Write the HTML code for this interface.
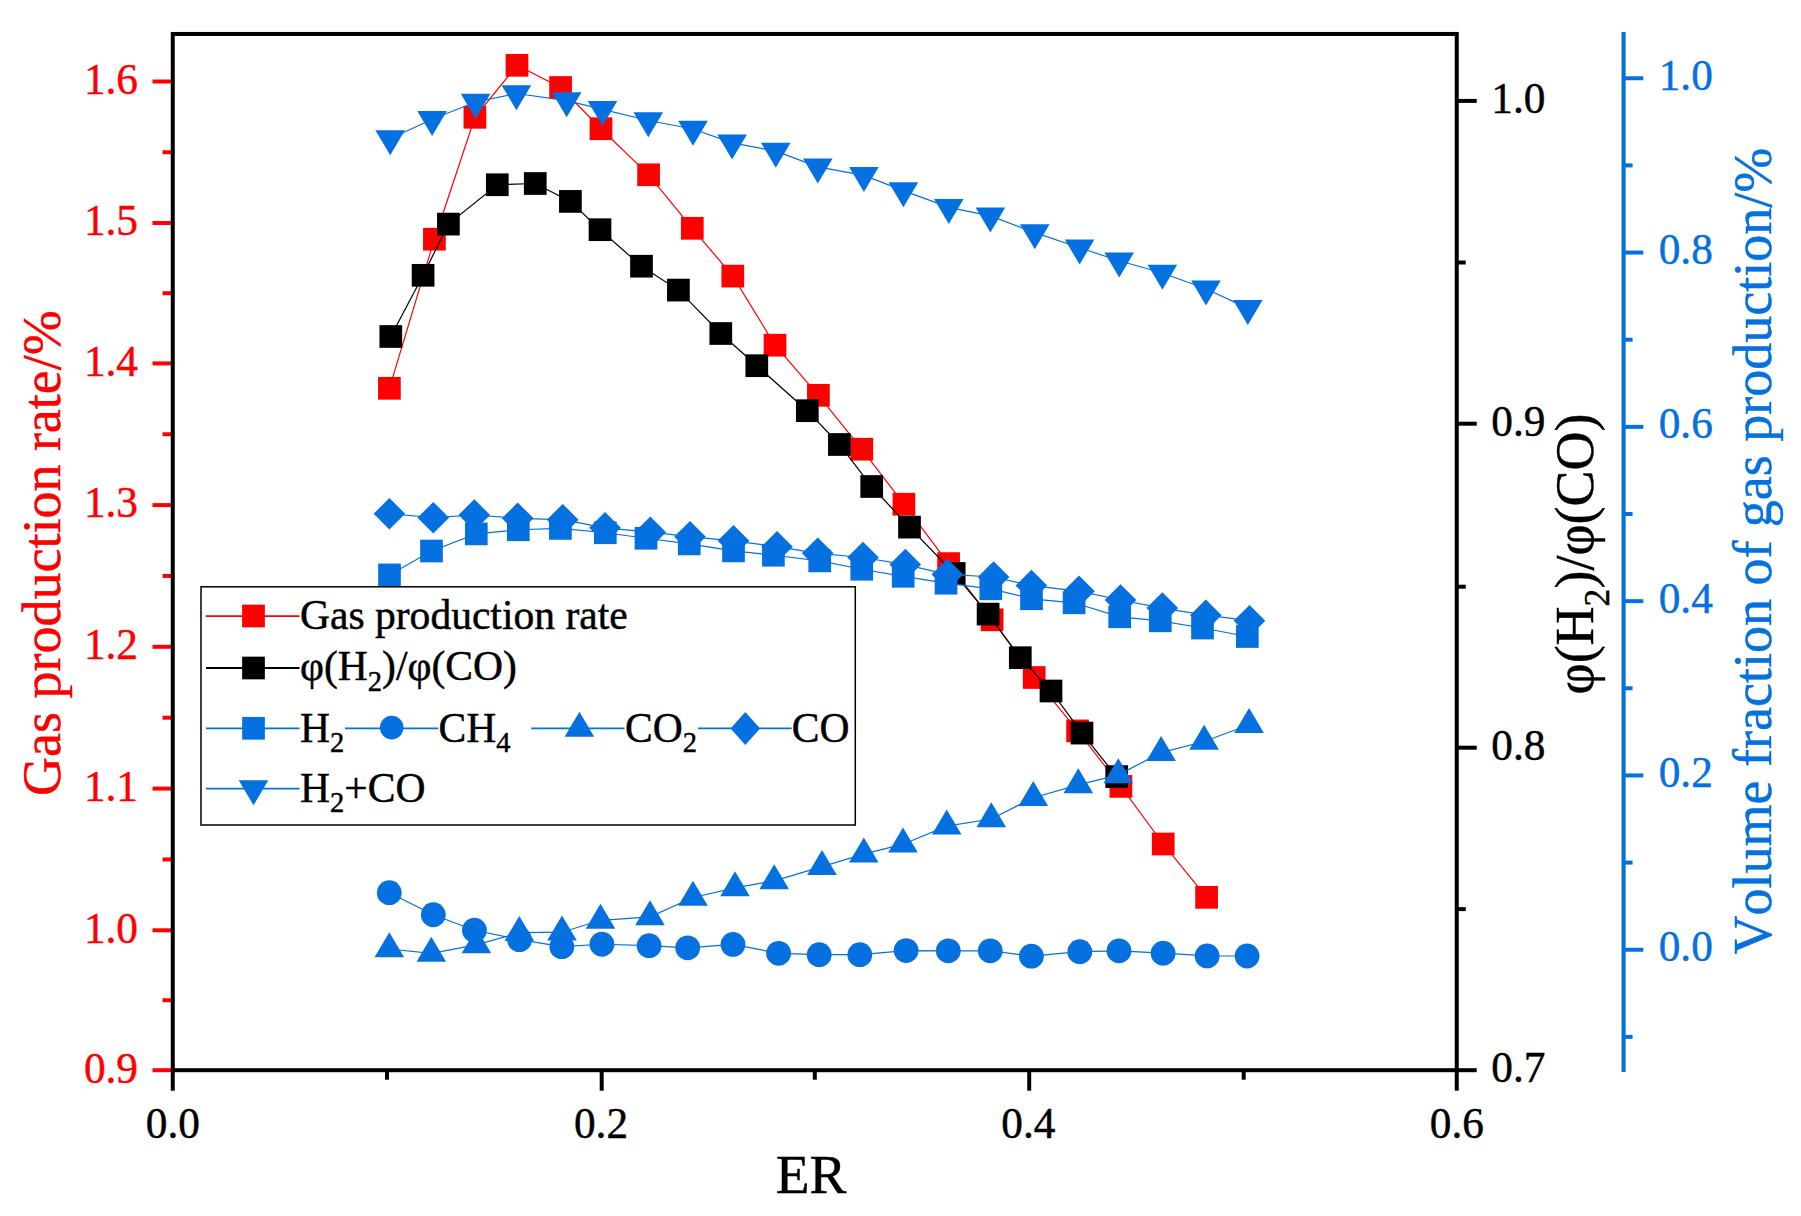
<!DOCTYPE html>
<html lang="en"><head><meta charset="utf-8"><title>Gas production chart</title>
<style>html,body{margin:0;padding:0;background:#fff}body{width:1801px;height:1216px;overflow:hidden}svg{display:block}text{font-family:'Liberation Serif', serif;font-kerning:none}</style>
</head><body>
<svg width="1801" height="1216" viewBox="0 0 1801 1216">
<rect width="1801" height="1216" fill="#fff"/>
<g id="series">
<polyline fill="none" stroke="#FF0000" stroke-width="1.2" points="389.4,388.3 434.4,239.2 474.9,117.3 517,65.3 560.6,87.5 601,128.7 648.6,174.8 692.3,228.3 732.8,276.1 775,345.2 818.4,395.3 861.8,449.2 903.9,504.2 948.6,563.6 992.1,619.8 1034.2,677.5 1077.6,730.9 1120.9,786.4 1163.2,844 1206.6,897.35"/>
<rect x="378.05" y="376.95" width="22.7" height="22.7" fill="#FF0000"/>
<rect x="423.05" y="227.85" width="22.7" height="22.7" fill="#FF0000"/>
<rect x="463.55" y="105.95" width="22.7" height="22.7" fill="#FF0000"/>
<rect x="505.65" y="53.95" width="22.7" height="22.7" fill="#FF0000"/>
<rect x="549.25" y="76.15" width="22.7" height="22.7" fill="#FF0000"/>
<rect x="589.65" y="117.35" width="22.7" height="22.7" fill="#FF0000"/>
<rect x="637.25" y="163.45" width="22.7" height="22.7" fill="#FF0000"/>
<rect x="680.95" y="216.95" width="22.7" height="22.7" fill="#FF0000"/>
<rect x="721.45" y="264.75" width="22.7" height="22.7" fill="#FF0000"/>
<rect x="763.65" y="333.85" width="22.7" height="22.7" fill="#FF0000"/>
<rect x="807.05" y="383.95" width="22.7" height="22.7" fill="#FF0000"/>
<rect x="850.45" y="437.85" width="22.7" height="22.7" fill="#FF0000"/>
<rect x="892.55" y="492.85" width="22.7" height="22.7" fill="#FF0000"/>
<rect x="937.25" y="552.25" width="22.7" height="22.7" fill="#FF0000"/>
<rect x="980.75" y="608.45" width="22.7" height="22.7" fill="#FF0000"/>
<rect x="1022.85" y="666.15" width="22.7" height="22.7" fill="#FF0000"/>
<rect x="1066.25" y="719.55" width="22.7" height="22.7" fill="#FF0000"/>
<rect x="1109.55" y="775.05" width="22.7" height="22.7" fill="#FF0000"/>
<rect x="1151.85" y="832.65" width="22.7" height="22.7" fill="#FF0000"/>
<rect x="1195.25" y="886" width="22.7" height="22.7" fill="#FF0000"/>
<polyline fill="none" stroke="#000" stroke-width="1.2" points="390.8,336.5 423.1,275.3 448.4,224.1 497.3,184.75 535.25,183.5 570.4,201.4 600,229.7 641.5,266.2 678.4,290.1 720.8,333.5 756.8,365.7 807.3,410.7 839.4,444.5 871.7,486.5 909.5,527.1 954.2,573.5 988.1,614.1 1020.3,657.7 1051,691 1082,733.1 1116.7,776.6"/>
<rect x="379.45" y="325.15" width="22.7" height="22.7" fill="#000"/>
<rect x="411.75" y="263.95" width="22.7" height="22.7" fill="#000"/>
<rect x="437.05" y="212.75" width="22.7" height="22.7" fill="#000"/>
<rect x="485.95" y="173.4" width="22.7" height="22.7" fill="#000"/>
<rect x="523.9" y="172.15" width="22.7" height="22.7" fill="#000"/>
<rect x="559.05" y="190.05" width="22.7" height="22.7" fill="#000"/>
<rect x="588.65" y="218.35" width="22.7" height="22.7" fill="#000"/>
<rect x="630.15" y="254.85" width="22.7" height="22.7" fill="#000"/>
<rect x="667.05" y="278.75" width="22.7" height="22.7" fill="#000"/>
<rect x="709.45" y="322.15" width="22.7" height="22.7" fill="#000"/>
<rect x="745.45" y="354.35" width="22.7" height="22.7" fill="#000"/>
<rect x="795.95" y="399.35" width="22.7" height="22.7" fill="#000"/>
<rect x="828.05" y="433.15" width="22.7" height="22.7" fill="#000"/>
<rect x="860.35" y="475.15" width="22.7" height="22.7" fill="#000"/>
<rect x="898.15" y="515.75" width="22.7" height="22.7" fill="#000"/>
<rect x="942.85" y="562.15" width="22.7" height="22.7" fill="#000"/>
<rect x="976.75" y="602.75" width="22.7" height="22.7" fill="#000"/>
<rect x="1008.95" y="646.35" width="22.7" height="22.7" fill="#000"/>
<rect x="1039.65" y="679.65" width="22.7" height="22.7" fill="#000"/>
<rect x="1070.65" y="721.75" width="22.7" height="22.7" fill="#000"/>
<rect x="1105.35" y="765.25" width="22.7" height="22.7" fill="#000"/>
<polyline fill="none" stroke="#0570E0" stroke-width="1.2" points="389.5,574.9 431.5,551 476.3,533.9 518.3,529.75 560.4,528.4 605.3,532.75 646,538.25 689.25,543.9 733.5,550.9 773.4,555.25 819.75,560.9 861.75,569.25 903.2,576.3 946,583.2 990.8,588.8 1031.5,598.8 1074.1,602.8 1119.7,616.8 1160.3,620.8 1202.5,628 1247.3,636.5"/>
<rect x="378.15" y="563.55" width="22.7" height="22.7" fill="#0570E0"/>
<rect x="420.15" y="539.65" width="22.7" height="22.7" fill="#0570E0"/>
<rect x="464.95" y="522.55" width="22.7" height="22.7" fill="#0570E0"/>
<rect x="506.95" y="518.4" width="22.7" height="22.7" fill="#0570E0"/>
<rect x="549.05" y="517.05" width="22.7" height="22.7" fill="#0570E0"/>
<rect x="593.95" y="521.4" width="22.7" height="22.7" fill="#0570E0"/>
<rect x="634.65" y="526.9" width="22.7" height="22.7" fill="#0570E0"/>
<rect x="677.9" y="532.55" width="22.7" height="22.7" fill="#0570E0"/>
<rect x="722.15" y="539.55" width="22.7" height="22.7" fill="#0570E0"/>
<rect x="762.05" y="543.9" width="22.7" height="22.7" fill="#0570E0"/>
<rect x="808.4" y="549.55" width="22.7" height="22.7" fill="#0570E0"/>
<rect x="850.4" y="557.9" width="22.7" height="22.7" fill="#0570E0"/>
<rect x="891.85" y="564.95" width="22.7" height="22.7" fill="#0570E0"/>
<rect x="934.65" y="571.85" width="22.7" height="22.7" fill="#0570E0"/>
<rect x="979.45" y="577.45" width="22.7" height="22.7" fill="#0570E0"/>
<rect x="1020.15" y="587.45" width="22.7" height="22.7" fill="#0570E0"/>
<rect x="1062.75" y="591.45" width="22.7" height="22.7" fill="#0570E0"/>
<rect x="1108.35" y="605.45" width="22.7" height="22.7" fill="#0570E0"/>
<rect x="1148.95" y="609.45" width="22.7" height="22.7" fill="#0570E0"/>
<rect x="1191.15" y="616.65" width="22.7" height="22.7" fill="#0570E0"/>
<rect x="1235.95" y="625.15" width="22.7" height="22.7" fill="#0570E0"/>
<polyline fill="none" stroke="#0570E0" stroke-width="1.2" points="389.3,892.7 433.3,914.75 474.4,930.25 519.5,939.7 561.8,946.7 601.9,944.25 649.1,945.7 687.7,947.8 733,944.4 778.6,953.3 819.2,954.7 859.8,954.7 906.1,950.6 948.3,950.8 990.25,950.8 1031.4,956.2 1079.8,951.7 1119,950.8 1163.1,953.2 1207.15,955.9 1247.1,956"/>
<circle cx="389.3" cy="892.7" r="12.4" fill="#0570E0"/>
<circle cx="433.3" cy="914.75" r="12.4" fill="#0570E0"/>
<circle cx="474.4" cy="930.25" r="12.4" fill="#0570E0"/>
<circle cx="519.5" cy="939.7" r="12.4" fill="#0570E0"/>
<circle cx="561.8" cy="946.7" r="12.4" fill="#0570E0"/>
<circle cx="601.9" cy="944.25" r="12.4" fill="#0570E0"/>
<circle cx="649.1" cy="945.7" r="12.4" fill="#0570E0"/>
<circle cx="687.7" cy="947.8" r="12.4" fill="#0570E0"/>
<circle cx="733" cy="944.4" r="12.4" fill="#0570E0"/>
<circle cx="778.6" cy="953.3" r="12.4" fill="#0570E0"/>
<circle cx="819.2" cy="954.7" r="12.4" fill="#0570E0"/>
<circle cx="859.8" cy="954.7" r="12.4" fill="#0570E0"/>
<circle cx="906.1" cy="950.6" r="12.4" fill="#0570E0"/>
<circle cx="948.3" cy="950.8" r="12.4" fill="#0570E0"/>
<circle cx="990.25" cy="950.8" r="12.4" fill="#0570E0"/>
<circle cx="1031.4" cy="956.2" r="12.4" fill="#0570E0"/>
<circle cx="1079.8" cy="951.7" r="12.4" fill="#0570E0"/>
<circle cx="1119" cy="950.8" r="12.4" fill="#0570E0"/>
<circle cx="1163.1" cy="953.2" r="12.4" fill="#0570E0"/>
<circle cx="1207.15" cy="955.9" r="12.4" fill="#0570E0"/>
<circle cx="1247.1" cy="956" r="12.4" fill="#0570E0"/>
<polyline fill="none" stroke="#0570E0" stroke-width="1.2" points="389.3,949 431.3,953.3 476.4,944.8 519.3,932.7 562,932.2 600.5,920.3 650,916.8 693,897.5 735,887.8 774.2,880.8 822,866.7 863.8,854.2 903,844.2 946.7,826.2 991.3,819 1033.3,797.7 1078.3,784.8 1118.3,774.9 1161.1,752.6 1204.1,741.5 1249.1,724.7"/>
<polygon points="389.3,932.33 374.5,957.33 404.1,957.33" fill="#0570E0"/>
<polygon points="431.3,936.63 416.5,961.63 446.1,961.63" fill="#0570E0"/>
<polygon points="476.4,928.13 461.6,953.13 491.2,953.13" fill="#0570E0"/>
<polygon points="519.3,916.03 504.5,941.03 534.1,941.03" fill="#0570E0"/>
<polygon points="562,915.53 547.2,940.53 576.8,940.53" fill="#0570E0"/>
<polygon points="600.5,903.63 585.7,928.63 615.3,928.63" fill="#0570E0"/>
<polygon points="650,900.13 635.2,925.13 664.8,925.13" fill="#0570E0"/>
<polygon points="693,880.83 678.2,905.83 707.8,905.83" fill="#0570E0"/>
<polygon points="735,871.13 720.2,896.13 749.8,896.13" fill="#0570E0"/>
<polygon points="774.2,864.13 759.4,889.13 789,889.13" fill="#0570E0"/>
<polygon points="822,850.03 807.2,875.03 836.8,875.03" fill="#0570E0"/>
<polygon points="863.8,837.53 849,862.53 878.6,862.53" fill="#0570E0"/>
<polygon points="903,827.53 888.2,852.53 917.8,852.53" fill="#0570E0"/>
<polygon points="946.7,809.53 931.9,834.53 961.5,834.53" fill="#0570E0"/>
<polygon points="991.3,802.33 976.5,827.33 1006.1,827.33" fill="#0570E0"/>
<polygon points="1033.3,781.03 1018.5,806.03 1048.1,806.03" fill="#0570E0"/>
<polygon points="1078.3,768.13 1063.5,793.13 1093.1,793.13" fill="#0570E0"/>
<polygon points="1118.3,758.23 1103.5,783.23 1133.1,783.23" fill="#0570E0"/>
<polygon points="1161.1,735.93 1146.3,760.93 1175.9,760.93" fill="#0570E0"/>
<polygon points="1204.1,724.83 1189.3,749.83 1218.9,749.83" fill="#0570E0"/>
<polygon points="1249.1,708.03 1234.3,733.03 1263.9,733.03" fill="#0570E0"/>
<polyline fill="none" stroke="#0570E0" stroke-width="1.2" points="389.4,513.75 433.3,517.7 474.3,515 517.7,518.3 562.7,519.7 605,527.8 650.3,532.2 690,536.7 733.5,540.8 777,546.7 817.7,553.3 863,557.5 905.3,564.6 947.4,574.4 993.6,577 1031.4,585.6 1079,591.2 1120.5,600 1162.3,608.1 1205.8,615.2 1249.5,620.7"/>
<polygon points="389.4,497.95 405.2,513.75 389.4,529.55 373.6,513.75" fill="#0570E0"/>
<polygon points="433.3,501.9 449.1,517.7 433.3,533.5 417.5,517.7" fill="#0570E0"/>
<polygon points="474.3,499.2 490.1,515 474.3,530.8 458.5,515" fill="#0570E0"/>
<polygon points="517.7,502.5 533.5,518.3 517.7,534.1 501.9,518.3" fill="#0570E0"/>
<polygon points="562.7,503.9 578.5,519.7 562.7,535.5 546.9,519.7" fill="#0570E0"/>
<polygon points="605,512 620.8,527.8 605,543.6 589.2,527.8" fill="#0570E0"/>
<polygon points="650.3,516.4 666.1,532.2 650.3,548 634.5,532.2" fill="#0570E0"/>
<polygon points="690,520.9 705.8,536.7 690,552.5 674.2,536.7" fill="#0570E0"/>
<polygon points="733.5,525 749.3,540.8 733.5,556.6 717.7,540.8" fill="#0570E0"/>
<polygon points="777,530.9 792.8,546.7 777,562.5 761.2,546.7" fill="#0570E0"/>
<polygon points="817.7,537.5 833.5,553.3 817.7,569.1 801.9,553.3" fill="#0570E0"/>
<polygon points="863,541.7 878.8,557.5 863,573.3 847.2,557.5" fill="#0570E0"/>
<polygon points="905.3,548.8 921.1,564.6 905.3,580.4 889.5,564.6" fill="#0570E0"/>
<polygon points="947.4,558.6 963.2,574.4 947.4,590.2 931.6,574.4" fill="#0570E0"/>
<polygon points="993.6,561.2 1009.4,577 993.6,592.8 977.8,577" fill="#0570E0"/>
<polygon points="1031.4,569.8 1047.2,585.6 1031.4,601.4 1015.6,585.6" fill="#0570E0"/>
<polygon points="1079,575.4 1094.8,591.2 1079,607 1063.2,591.2" fill="#0570E0"/>
<polygon points="1120.5,584.2 1136.3,600 1120.5,615.8 1104.7,600" fill="#0570E0"/>
<polygon points="1162.3,592.3 1178.1,608.1 1162.3,623.9 1146.5,608.1" fill="#0570E0"/>
<polygon points="1205.8,599.4 1221.6,615.2 1205.8,631 1190,615.2" fill="#0570E0"/>
<polygon points="1249.5,604.9 1265.3,620.7 1249.5,636.5 1233.7,620.7" fill="#0570E0"/>
<polyline fill="none" stroke="#0570E0" stroke-width="1.2" points="390.2,138.7 432.1,119.3 475.6,102 516.4,93.5 566.7,100.7 602.5,109.3 648.3,120.5 693,129 732.1,142.8 775.8,151.2 817.8,166.8 863.9,175.4 903.4,190.6 948.8,207.4 990.4,215.9 1034.8,232.6 1079.6,247.8 1119.2,260.8 1162.4,273 1206,288.8 1247.8,308.4"/>
<polygon points="390.2,155.37 375.4,130.37 405,130.37" fill="#0570E0"/>
<polygon points="432.1,135.97 417.3,110.97 446.9,110.97" fill="#0570E0"/>
<polygon points="475.6,118.67 460.8,93.67 490.4,93.67" fill="#0570E0"/>
<polygon points="516.4,110.17 501.6,85.17 531.2,85.17" fill="#0570E0"/>
<polygon points="566.7,117.37 551.9,92.37 581.5,92.37" fill="#0570E0"/>
<polygon points="602.5,125.97 587.7,100.97 617.3,100.97" fill="#0570E0"/>
<polygon points="648.3,137.17 633.5,112.17 663.1,112.17" fill="#0570E0"/>
<polygon points="693,145.67 678.2,120.67 707.8,120.67" fill="#0570E0"/>
<polygon points="732.1,159.47 717.3,134.47 746.9,134.47" fill="#0570E0"/>
<polygon points="775.8,167.87 761,142.87 790.6,142.87" fill="#0570E0"/>
<polygon points="817.8,183.47 803,158.47 832.6,158.47" fill="#0570E0"/>
<polygon points="863.9,192.07 849.1,167.07 878.7,167.07" fill="#0570E0"/>
<polygon points="903.4,207.27 888.6,182.27 918.2,182.27" fill="#0570E0"/>
<polygon points="948.8,224.07 934,199.07 963.6,199.07" fill="#0570E0"/>
<polygon points="990.4,232.57 975.6,207.57 1005.2,207.57" fill="#0570E0"/>
<polygon points="1034.8,249.27 1020,224.27 1049.6,224.27" fill="#0570E0"/>
<polygon points="1079.6,264.47 1064.8,239.47 1094.4,239.47" fill="#0570E0"/>
<polygon points="1119.2,277.47 1104.4,252.47 1134,252.47" fill="#0570E0"/>
<polygon points="1162.4,289.67 1147.6,264.67 1177.2,264.67" fill="#0570E0"/>
<polygon points="1206,305.47 1191.2,280.47 1220.8,280.47" fill="#0570E0"/>
<polygon points="1247.8,325.07 1233,300.07 1262.6,300.07" fill="#0570E0"/>
</g>
<g id="axes" stroke-linecap="butt">
<line x1="152.5" y1="1070.2" x2="172.75" y2="1070.2" stroke="#FF0000" stroke-width="4"/>
<line x1="162.5" y1="1000.25" x2="172.75" y2="1000.25" stroke="#FF0000" stroke-width="4"/>
<line x1="152.5" y1="930.3" x2="172.75" y2="930.3" stroke="#FF0000" stroke-width="4"/>
<line x1="162.5" y1="859.45" x2="172.75" y2="859.45" stroke="#FF0000" stroke-width="4"/>
<line x1="152.5" y1="788.6" x2="172.75" y2="788.6" stroke="#FF0000" stroke-width="4"/>
<line x1="162.5" y1="717.7" x2="172.75" y2="717.7" stroke="#FF0000" stroke-width="4"/>
<line x1="152.5" y1="646.8" x2="172.75" y2="646.8" stroke="#FF0000" stroke-width="4"/>
<line x1="162.5" y1="575.95" x2="172.75" y2="575.95" stroke="#FF0000" stroke-width="4"/>
<line x1="152.5" y1="505.1" x2="172.75" y2="505.1" stroke="#FF0000" stroke-width="4"/>
<line x1="162.5" y1="434.25" x2="172.75" y2="434.25" stroke="#FF0000" stroke-width="4"/>
<line x1="152.5" y1="363.4" x2="172.75" y2="363.4" stroke="#FF0000" stroke-width="4"/>
<line x1="162.5" y1="293.2" x2="172.75" y2="293.2" stroke="#FF0000" stroke-width="4"/>
<line x1="152.5" y1="223" x2="172.75" y2="223" stroke="#FF0000" stroke-width="4"/>
<line x1="162.5" y1="152.25" x2="172.75" y2="152.25" stroke="#FF0000" stroke-width="4"/>
<line x1="152.5" y1="81.5" x2="172.75" y2="81.5" stroke="#FF0000" stroke-width="4"/>
<rect x="172.75" y="33.95" width="1284" height="1036.25" fill="none" stroke="#000" stroke-width="4"/>
<line x1="172.75" y1="1070.2" x2="172.75" y2="1090.7" stroke="#000" stroke-width="4"/>
<line x1="387" y1="1070.2" x2="387" y2="1079.7" stroke="#000" stroke-width="4"/>
<line x1="601.7" y1="1070.2" x2="601.7" y2="1090.7" stroke="#000" stroke-width="4"/>
<line x1="814.8" y1="1070.2" x2="814.8" y2="1079.7" stroke="#000" stroke-width="4"/>
<line x1="1029.2" y1="1070.2" x2="1029.2" y2="1090.7" stroke="#000" stroke-width="4"/>
<line x1="1243.7" y1="1070.2" x2="1243.7" y2="1079.7" stroke="#000" stroke-width="4"/>
<line x1="1456.75" y1="1070.2" x2="1456.75" y2="1090.7" stroke="#000" stroke-width="4"/>
<line x1="1456.75" y1="1070.2" x2="1476.75" y2="1070.2" stroke="#000" stroke-width="4"/>
<line x1="1456.75" y1="909.1" x2="1465.75" y2="909.1" stroke="#000" stroke-width="4"/>
<line x1="1456.75" y1="747.7" x2="1476.75" y2="747.7" stroke="#000" stroke-width="4"/>
<line x1="1456.75" y1="586.7" x2="1465.75" y2="586.7" stroke="#000" stroke-width="4"/>
<line x1="1456.75" y1="423.7" x2="1476.75" y2="423.7" stroke="#000" stroke-width="4"/>
<line x1="1456.75" y1="262.5" x2="1465.75" y2="262.5" stroke="#000" stroke-width="4"/>
<line x1="1456.75" y1="100.9" x2="1476.75" y2="100.9" stroke="#000" stroke-width="4"/>
<line x1="1623.6" y1="32" x2="1623.6" y2="1072" stroke="#0570E0" stroke-width="4.1"/>
<line x1="1623.6" y1="949.75" x2="1643.35" y2="949.75" stroke="#0570E0" stroke-width="4"/>
<line x1="1623.6" y1="775.45" x2="1643.35" y2="775.45" stroke="#0570E0" stroke-width="4"/>
<line x1="1623.6" y1="601.15" x2="1643.35" y2="601.15" stroke="#0570E0" stroke-width="4"/>
<line x1="1623.6" y1="426.85" x2="1643.35" y2="426.85" stroke="#0570E0" stroke-width="4"/>
<line x1="1623.6" y1="252.55" x2="1643.35" y2="252.55" stroke="#0570E0" stroke-width="4"/>
<line x1="1623.6" y1="78.25" x2="1643.35" y2="78.25" stroke="#0570E0" stroke-width="4"/>
<line x1="1623.6" y1="1036.9" x2="1632.6" y2="1036.9" stroke="#0570E0" stroke-width="4"/>
<line x1="1623.6" y1="862.6" x2="1632.6" y2="862.6" stroke="#0570E0" stroke-width="4"/>
<line x1="1623.6" y1="688.3" x2="1632.6" y2="688.3" stroke="#0570E0" stroke-width="4"/>
<line x1="1623.6" y1="514" x2="1632.6" y2="514" stroke="#0570E0" stroke-width="4"/>
<line x1="1623.6" y1="339.7" x2="1632.6" y2="339.7" stroke="#0570E0" stroke-width="4"/>
<line x1="1623.6" y1="165.4" x2="1632.6" y2="165.4" stroke="#0570E0" stroke-width="4"/>
</g>
<g id="ticklabels" font-size="43.3">
<text x="138" y="1082.5" text-anchor="end" fill="#FF0000" stroke="#FF0000" stroke-width="0.45">0.9</text>
<text x="138" y="942.6" text-anchor="end" fill="#FF0000" stroke="#FF0000" stroke-width="0.45">1.0</text>
<text x="138" y="800.9" text-anchor="end" fill="#FF0000" stroke="#FF0000" stroke-width="0.45">1.1</text>
<text x="138" y="659.1" text-anchor="end" fill="#FF0000" stroke="#FF0000" stroke-width="0.45">1.2</text>
<text x="138" y="517.4" text-anchor="end" fill="#FF0000" stroke="#FF0000" stroke-width="0.45">1.3</text>
<text x="138" y="375.7" text-anchor="end" fill="#FF0000" stroke="#FF0000" stroke-width="0.45">1.4</text>
<text x="138" y="235.3" text-anchor="end" fill="#FF0000" stroke="#FF0000" stroke-width="0.45">1.5</text>
<text x="138" y="93.8" text-anchor="end" fill="#FF0000" stroke="#FF0000" stroke-width="0.45">1.6</text>
<text x="172.9" y="1137.7" text-anchor="middle" fill="#000" stroke="#000" stroke-width="0.45">0.0</text>
<text x="601" y="1137.7" text-anchor="middle" fill="#000" stroke="#000" stroke-width="0.45">0.2</text>
<text x="1028.4" y="1137.7" text-anchor="middle" fill="#000" stroke="#000" stroke-width="0.45">0.4</text>
<text x="1456.9" y="1137.7" text-anchor="middle" fill="#000" stroke="#000" stroke-width="0.45">0.6</text>
<text x="1491.3" y="1082.3" fill="#000" stroke="#000" stroke-width="0.45">0.7</text>
<text x="1491.3" y="759.8" fill="#000" stroke="#000" stroke-width="0.45">0.8</text>
<text x="1491.3" y="435.8" fill="#000" stroke="#000" stroke-width="0.45">0.9</text>
<text x="1491.3" y="113" fill="#000" stroke="#000" stroke-width="0.45">1.0</text>
<text x="1658.7" y="961.15" fill="#0570E0" stroke="#0570E0" stroke-width="0.45">0.0</text>
<text x="1658.7" y="786.85" fill="#0570E0" stroke="#0570E0" stroke-width="0.45">0.2</text>
<text x="1658.7" y="612.55" fill="#0570E0" stroke="#0570E0" stroke-width="0.45">0.4</text>
<text x="1658.7" y="438.25" fill="#0570E0" stroke="#0570E0" stroke-width="0.45">0.6</text>
<text x="1658.7" y="263.95" fill="#0570E0" stroke="#0570E0" stroke-width="0.45">0.8</text>
<text x="1658.7" y="89.65" fill="#0570E0" stroke="#0570E0" stroke-width="0.45">1.0</text>
</g>
<g id="titles" font-size="55.3">
<text x="812" y="1193.3" text-anchor="middle" fill="#000" stroke="#000" stroke-width="0.45" dx="-0.9">ER</text>
<text transform="translate(59.5,553.1) rotate(-90) scale(0.9765,1)" text-anchor="middle" fill="#FF0000" stroke="#FF0000" stroke-width="0.45">Gas production rate/%</text>
<text transform="translate(1593.2,554.0) rotate(-90) scale(0.9765,1)" text-anchor="middle" fill="#000" stroke="#000" stroke-width="0.45">φ(H<tspan font-size="36.5" dy="15.5">2</tspan><tspan dy="-15.5">)/φ(CO)</tspan></text>
<text transform="translate(1771.2,551.1) rotate(-90) scale(0.9765,1)" text-anchor="middle" fill="#0570E0" stroke="#0570E0" stroke-width="0.45">Volume fraction of gas production/%</text>
</g>
<g id="legend" font-size="41.55">
<rect x="201" y="586.8" width="654.3" height="238.2" fill="#fff" stroke="#000" stroke-width="1.5"/>
<line x1="205.7" y1="616.05" x2="299.5" y2="616.05" stroke="#FF0000" stroke-width="1.8"/>
<rect x="242.15" y="604.65" width="22.7" height="22.7" fill="#FF0000"/>
<text x="300" y="629" fill="#000" stroke="#000" stroke-width="0.45">Gas production rate</text>
<line x1="206" y1="668" x2="299.5" y2="668" stroke="#000" stroke-width="1.8"/>
<rect x="242.15" y="656.65" width="22.7" height="22.7" fill="#000"/>
<text x="300" y="679.5" fill="#000" stroke="#000" stroke-width="0.45">φ(H<tspan font-size="28.5" dy="11">2</tspan><tspan dy="-11">)/φ(CO)</tspan></text>
<line x1="206" y1="728.3" x2="299.5" y2="728.3" stroke="#0570E0" stroke-width="1.8"/>
<rect x="242.15" y="716.95" width="22.7" height="22.7" fill="#0570E0"/>
<text x="300" y="742" fill="#000" stroke="#000" stroke-width="0.45">H<tspan font-size="28.5" dy="9.7">2</tspan></text>
<line x1="345" y1="728.3" x2="438.25" y2="728.3" stroke="#0570E0" stroke-width="1.8"/>
<circle cx="391.7" cy="727.6" r="11.8" fill="#0570E0"/>
<text x="438.5" y="742" fill="#000" stroke="#000" stroke-width="0.45">CH<tspan font-size="28.5" dy="9.7">4</tspan></text>
<line x1="531.25" y1="728.3" x2="624.5" y2="728.3" stroke="#0570E0" stroke-width="1.8"/>
<polygon points="579.4,711.63 564.6,736.63 594.2,736.63" fill="#0570E0"/>
<text x="625" y="742" fill="#000" stroke="#000" stroke-width="0.45">CO<tspan font-size="28.5" dy="9.7">2</tspan></text>
<line x1="698" y1="728.3" x2="791.75" y2="728.3" stroke="#0570E0" stroke-width="1.8"/>
<polygon points="745.3,711.9 760.1,728.4 745.3,745 730.6,728.4" fill="#0570E0"/>
<text x="791.8" y="742" fill="#000" stroke="#000" stroke-width="0.45">CO</text>
<line x1="206" y1="788.6" x2="299.5" y2="788.6" stroke="#0570E0" stroke-width="1.8"/>
<polygon points="253.5,805.27 238.7,780.27 268.3,780.27" fill="#0570E0"/>
<text x="300" y="802" fill="#000" stroke="#000" stroke-width="0.45">H<tspan font-size="28.5" dy="10">2</tspan><tspan dy="-10">+CO</tspan></text>
</g>
</svg>
</body></html>
